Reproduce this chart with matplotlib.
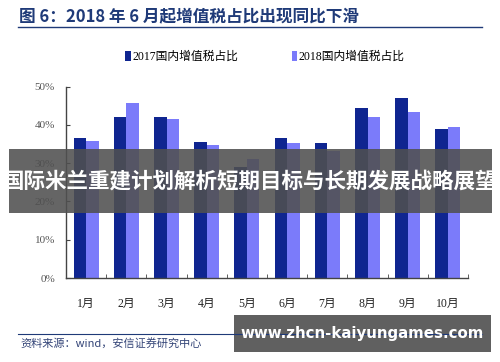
import numpy as np
import matplotlib.pyplot as plt
from matplotlib.patches import Rectangle
from matplotlib.lines import Line2D

plt.rcParams['font.family'] = ['Liberation Serif', 'Noto Sans CJK SC']

months = ['1月', '2月', '3月', '4月', '5月', '6月', '7月', '8月', '9月', '10月']
share_2017 = [36.5, 42.0, 42.0, 35.4, 28.9, 36.5, 35.2, 44.3, 47.1, 38.8]
share_2018 = [35.8, 45.8, 41.6, 34.8, 31.0, 35.2, 33.2, 42.0, 43.3, 39.5]
yticks = [0, 10, 20, 30, 40, 50]

dark = '#0F2590'
light = '#7B7BFA'
title_col = '#1F3A78'

fig = plt.figure(figsize=(5, 3.62), dpi=100)
ax = fig.add_axes([0.132, 0.232, 0.804, 0.529])

x = np.arange(len(months))
w = 0.31
ax.bar(x - w / 2, share_2017, w, color=dark, label='2017国内增值税占比')
ax.bar(x + w / 2, share_2018, w, color=light, label='2018国内增值税占比')

ax.set_xlim(-0.5, len(months) - 0.5)
ax.set_ylim(0, 50)
ax.set_yticks(yticks)
ax.set_yticklabels([f'{v}%' for v in yticks], color='#555555', fontsize=8,
                   family=['Liberation Serif'])
ax.set_xticks(x)
ax.set_xticklabels(months, fontsize=8.5, color='#222222')
ax.tick_params(axis='x', length=0, pad=14)
ax.set_xticks(np.arange(-0.5, len(months)), minor=True)
ax.tick_params(axis='x', which='minor', direction='in', length=3, color='#444444')
ax.tick_params(axis='y', direction='in', length=3, color='#444444', pad=8)
for s in ['top', 'right']:
    ax.spines[s].set_visible(False)
for s in ['left', 'bottom']:
    ax.spines[s].set_color('#444444')
    ax.spines[s].set_linewidth(1.0)

fig.legend(loc='center', bbox_to_anchor=(0.53, 0.843), ncol=2, frameon=False,
           fontsize=8.5, handlelength=0.5, handleheight=0.9, handletextpad=0.1,
           columnspacing=4.5)

# header
fig.text(0.038, 0.955, '图 6：2018 年 6 月起增值税占比出现同比下滑', fontsize=12,
         fontweight='bold', color=title_col, va='center',
         family=['Noto Sans CJK SC'])
fig.add_artist(Line2D([0.036, 0.964], [0.925, 0.925], color=title_col, lw=1))

# footer
fig.add_artist(Line2D([0.036, 0.964], [0.077, 0.077], color=title_col, lw=0.8))
fig.text(0.04, 0.052, '资料来源：wind，安信证券研究中心', fontsize=8, style='italic',
         color='#334477', va='center', family=['Noto Sans CJK SC'])

# overlay banners
fig.add_artist(Rectangle((0.018, 0.412), 0.966, 0.177, transform=fig.transFigure,
                         facecolor='#505050', alpha=0.88, edgecolor='none'))
fig.text(0.5, 0.5, '国际米兰重建计划解析短期目标与长期发展战略展望', fontsize=15.5,
         fontweight='bold', color='white', ha='center', va='center',
         family=['Noto Sans CJK SC'])
fig.add_artist(Rectangle((0.468, 0.028), 0.514, 0.102, transform=fig.transFigure,
                         facecolor='#606060', edgecolor='none'))
fig.text(0.725, 0.079, 'www.zhcn-kaiyungames.com', fontsize=10.8,
         fontweight='bold', color='white', ha='center', va='center',
         family=['DejaVu Sans'])

fig.savefig('out.png', dpi=100)
